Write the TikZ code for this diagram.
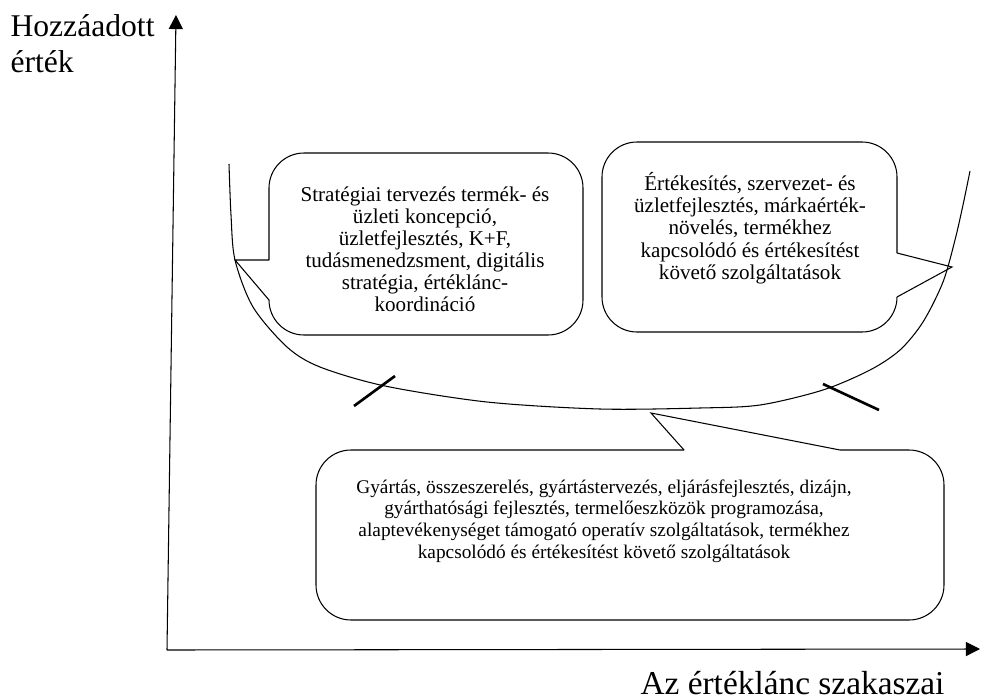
\documentclass[tikz,border=0pt]{standalone}
\usepackage{fontspec}
\setmainfont{Liberation Serif}
\usetikzlibrary{arrows.meta}

\begin{document}
\begin{tikzpicture}[x=0.02cm, y=-0.02cm, line width=0.6pt,
    axis/.style={-{Triangle[length=8pt, width=8pt]}},
    bubble/.style={rounded corners=0.7cm},
    bubbletext/.style={align=center, inner sep=0pt, font=\fontsize{12}{12.6}\selectfont},
    smalltext/.style={align=center, inner sep=0pt, font=\fontsize{11}{12.35}\selectfont},
    axislabel/.style={inner sep=0pt, font=\fontsize{18}{20.5}\selectfont},
    cut/.style={line width=1.5pt}]
    \useasboundingbox (0,0) rectangle (981,700);

    % Axes
    \coordinate (origin) at (167,650);
    \coordinate (ytip) at (176,15);
    \coordinate (xtip) at (980,649);
    \draw[axis] (origin) -- (ytip);
    \draw[axis] (origin) -- (xtip);
    \node[axislabel, anchor=north west, align=left] (ylabel) at (10,14) {Hozzáadott\\érték};
    \node[axislabel, anchor=base east, font=\fontsize{19}{21}\selectfont] (xlabel) at (945,694) {Az értéklánc szakaszai};

    % Smile curve
    \draw plot[smooth] coordinates {(229,164) (231,215) (235,260) (253,307) (287,347)
        (320,367) (385,386) (487,402) (600,409) (700,408) (760,405) (823,390)
        (870,370) (900,350) (923,322) (943,282) (955,240) (963,205) (970,171)};
    \draw[cut] (354,406) -- (395,376);
    \draw[cut] (823,384) -- (879,410);

    % Upstream callout
    \coordinate (stratTip) at (235,260);
    \coordinate (stratA) at (269,260);
    \coordinate (stratB) at (269,300);
    \draw[bubble] (stratB) -- (269,335) -- (583,335) -- (583,153) -- (269,153) -- (stratA);
    \draw (stratA) -- (stratTip) -- (stratB);
    \node[bubbletext, anchor=north] (strat) at (425,186)
        {Stratégiai tervezés termék- és\\üzleti koncepció,\\üzletfejlesztés, K+F,\\tudásmenedzsment, digitális\\stratégia, értéklánc-\\koordináció};

    % Downstream callout
    \coordinate (salesTip) at (952,267);
    \coordinate (salesA) at (897,253);
    \coordinate (salesB) at (897,297);
    \draw[bubble] (salesB) -- (897,332) -- (602,332) -- (602,142) -- (897,142) -- (salesA);
    \draw (salesA) -- (salesTip) -- (salesB);
    \node[bubbletext, anchor=north] (sales) at (750,172)
        {Értékesítés, szervezet- és\\üzletfejlesztés, márkaérték-\\növelés, termékhez\\kapcsolódó és értékesítést\\követő szolgáltatások};

    % Production callout
    \coordinate (prodTip) at (651,413);
    \coordinate (prodA) at (684,450);
    \coordinate (prodB) at (840,450);
    \draw[bubble] (prodA) -- (316,450) -- (316,620) -- (944,620) -- (944,450) -- (prodB);
    \draw (prodB) -- (prodTip) -- (prodA);
    \node[smalltext, anchor=north] (prod) at (604,479)
        {Gyártás, összeszerelés, gyártástervezés, eljárásfejlesztés, dizájn,\\gyárthatósági fejlesztés, termelőeszközök programozása,\\alaptevékenységet támogató operatív szolgáltatások, termékhez\\kapcsolódó és értékesítést követő szolgáltatások};
\end{tikzpicture}
\end{document}
